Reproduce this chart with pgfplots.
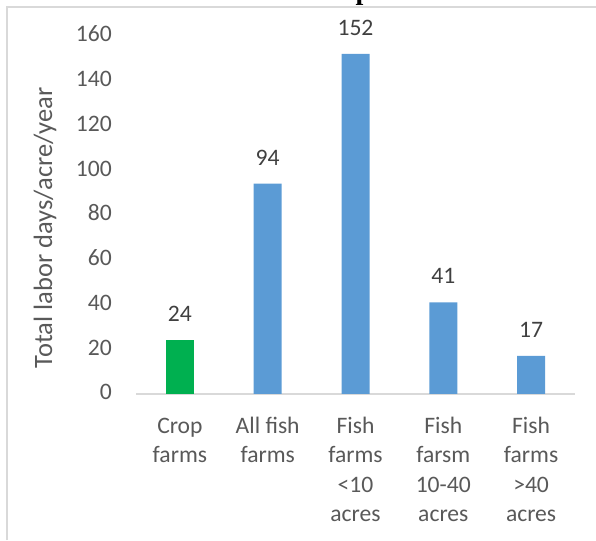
\documentclass[border=0pt]{standalone}
\usepackage{pgfplots}
\pgfplotsset{compat=1.18}
\usepackage{fontspec}
\setmainfont{Carlito}
\newfontfamily\titlefont{Liberation Serif}
\definecolor{txt}{HTML}{595959}
\definecolor{lbl}{HTML}{404040}
\definecolor{axgray}{HTML}{D9D9D9}
\definecolor{framegray}{HTML}{D9D9D9}
\definecolor{cgreen}{HTML}{00B050}
\definecolor{cblue}{HTML}{5B9BD5}
\newcommand{\tickfont}{\fontsize{23.6pt}{29.5pt}\selectfont}
\newcommand{\labfont}{\fontsize{26.5pt}{32pt}\selectfont}
\begin{document}
\begin{tikzpicture}[x=1pt,y=1pt]
\draw[framegray, line width=1.2pt] (7,0) -- (7,533) -- (600,533);
\node[anchor=base west, inner sep=0pt, font=\titlefont\bfseries\fontsize{28pt}{30pt}\selectfont] at (355.5,540.5) {p};
\begin{axis}[
  at={(136pt,146pt)}, anchor=south west,
  scale only axis, width=439pt, height=358pt,
  xmin=-0.5, xmax=4.5, ymin=0, ymax=160,
  axis x line=bottom, axis y line=left,
  axis line style={-},
  y axis line style={draw=none},
  x axis line style={axgray, line width=1.3pt},
  major tick length=0pt,
  ytick={0,20,...,160},
  xtick={0,1,2,3,4},
  xticklabels={{Crop\\farms},{All fish\\farms},{Fish\\farms\\<10\\acres},{Fish\\farsm\\10-40\\acres},{Fish\\farms\\>40\\acres}},
  /pgf/number format/assume math mode=true,
  yticklabel style={font=\tickfont, text=txt, anchor=east, inner sep=0pt, xshift=-24pt},
  xticklabel style={font=\tickfont, text=txt, anchor=north, inner sep=0pt, align=center, yshift=-18.4pt},
  typeset ticklabels with strut,
  ylabel={Total labor days/acre/year},
  ylabel style={font=\labfont, text=txt, at={(axis description cs:-0.2073,0.4637)}, anchor=center, rotate=0},
  clip=false,
]
\addplot[ybar, bar shift=0pt, bar width=28pt, fill=cgreen, draw=none,
  nodes near coords,
  every node near coord/.append style={font=\tickfont, text=lbl, anchor=base, inner sep=0pt, yshift=18.5pt}]
  coordinates {(0,24)};
\addplot[ybar, bar shift=0pt, bar width=28pt, fill=cblue, draw=none,
  nodes near coords,
  every node near coord/.append style={font=\tickfont, text=lbl, anchor=base, inner sep=0pt, yshift=18.5pt}]
  coordinates {(1,94) (2,152) (3,41) (4,17)};
\end{axis}
\pgfresetboundingbox
\useasboundingbox (0,0) rectangle (596,540);
\end{tikzpicture}
\end{document}
